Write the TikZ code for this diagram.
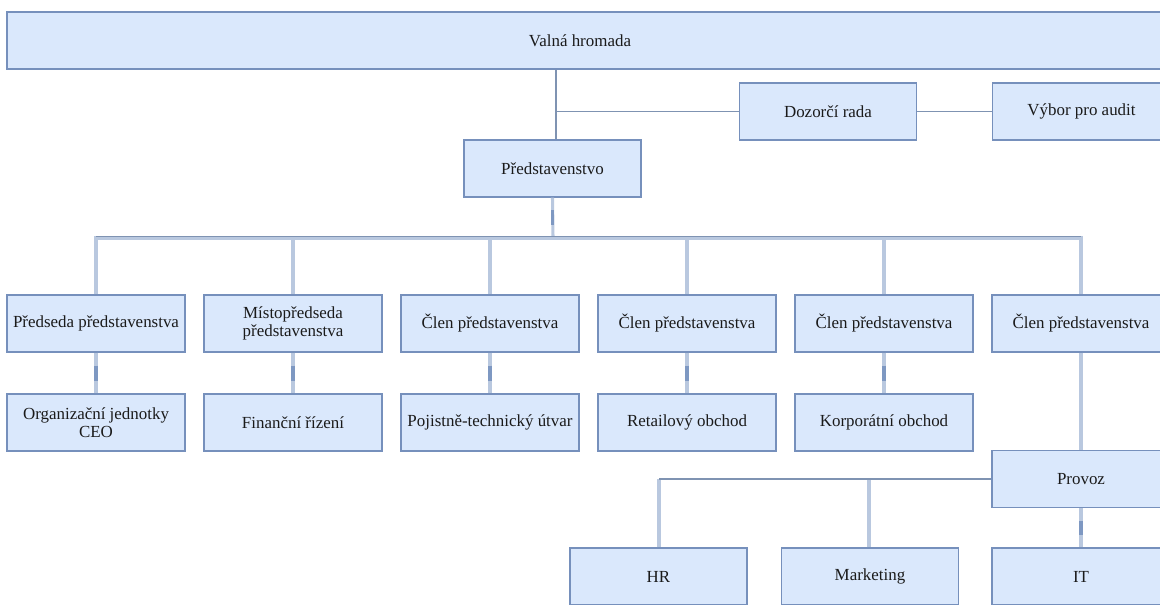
\documentclass[tikz,border=0pt]{standalone}
\usepackage{fontspec}
\setmainfont{Liberation Serif}
\usetikzlibrary{calc}
\definecolor{boxfill}{HTML}{DAE8FC}
\definecolor{bdr}{HTML}{7690BC}
\definecolor{connlight}{HTML}{B9C8DF}
\definecolor{conndark}{HTML}{7F93B2}
\definecolor{markc}{HTML}{7E98C2}
\definecolor{txt}{HTML}{1A1A1A}
\newcommand{\fsz}{\fontsize{12.7pt}{13.9pt}\selectfont}
\tikzset{
  box/.style={draw=bdr, fill=boxfill, line width=0.9pt, minimum width={178*0.75pt}, minimum height={57*0.75pt}, inner sep=1pt, align=center, font=\fsz, text=txt},
  conn/.style={draw=connlight, line width=2.3pt},
  darkconn/.style={draw=conndark, line width=1.1pt},
  markseg/.style={draw=markc, line width=2.3pt},
}
\begin{document}
\begin{tikzpicture}[x=0.75pt, y=-0.75pt]
\useasboundingbox (0,0) rectangle (1160,604);
\clip (0,0) rectangle (1160,604);
\fill[white] (0,0) rectangle (1160,604);

% top
\node[box, minimum width={1168*0.75pt}] (valna) at (591,40.5) {\hspace*{-16.5pt}Valná hromada};
\node[box, minimum width={177*0.75pt}] (predstav) at (552.5,168.5) {Představenstvo};
\node[box, minimum width={177*0.75pt}] (dozor) at (828,111.5) {Dozorčí rada};
\node[box, minimum width={178*0.75pt}] (vybor) at (1081.5,111.5) {Výbor pro audit};

% row 1
\node[box] (c1) at (96,323.5) {Předseda představenstva};
\node[box] (c2) at (293,323.5) {Místopředseda\\představenstva};
\node[box] (c3) at (490,323.5) {Člen představenstva};
\node[box] (c4) at (687,323.5) {Člen představenstva};
\node[box] (c5) at (884,323.5) {Člen představenstva};
\node[box] (c6) at (1081,323.5) {Člen představenstva};

% row 2
\node[box] (u1) at (96,422.5) {Organizační jednotky\\CEO};
\node[box] (u2) at (293,422.5) {Finanční řízení};
\node[box] (u3) at (490,422.5) {Pojistně-technický útvar};
\node[box] (u4) at (687,422.5) {Retailový obchod};
\node[box] (u5) at (884,422.5) {Korporátní obchod};

% provoz
\node[box] (provoz) at (1081,479) {Provoz};
\node[box, minimum width={177*0.75pt}] (hr) at (658.5,576.5) {HR};
\node[box, minimum width={177*0.75pt}] (mkt) at (870,576.5) {Marketing};
\node[box] (it) at (1081,576.5) {IT};

% connectors: Valna hromada
\coordinate (vtrunk) at (556,111.5);
\draw[darkconn] (valna.south -| vtrunk) -- (predstav.north -| vtrunk);
\draw[darkconn] (vtrunk) -- (dozor.west);
\draw[darkconn] (dozor.east) -- (vybor.west);

% bus from Predstavenstvo
\coordinate (bus) at (553,238);
\draw[conn] (predstav.south) -- (bus);
\draw[markseg] ($(predstav.south)!.5!(bus)$) ++(0,-7.5) -- ++(0,15);
\draw[conn] (c1.north) -- (c1.north |- bus) -- (c6.north |- bus) -- (c6.north);
\draw[draw=conndark, line width=0.5pt] ($(c1.north |- bus)+(0,-1.3)$) -- ($(c6.north |- bus)+(0,-1.3)$);
\foreach \n in {c2,c3,c4,c5} {
  \draw[conn] (\n.north |- bus) -- (\n.north);
}

% row 1 -> row 2
\foreach \a/\b in {c1/u1,c2/u2,c3/u3,c4/u4,c5/u5} {
  \draw[conn] (\a.south) -- (\b.north);
  \draw[markseg] ($(\a.south)!.5!(\b.north)$) ++(0,-7.5) -- ++(0,15);
}
\draw[conn] (c6.south) -- (provoz.north);

% provoz children
\coordinate (hrbus) at (659,479);
\draw[conn] (hr.north -| hrbus) -- (hrbus);
\draw[conn] (mkt.north -| 869,0) -- (869,479);
\draw[darkconn, line width=1.4pt] (provoz.west) -- (hrbus);
\draw[conn] (provoz.south) -- (it.north);
\draw[markseg] ($(provoz.south)!.5!(it.north)$) ++(0,-7) -- ++(0,14);
\end{tikzpicture}
\end{document}
